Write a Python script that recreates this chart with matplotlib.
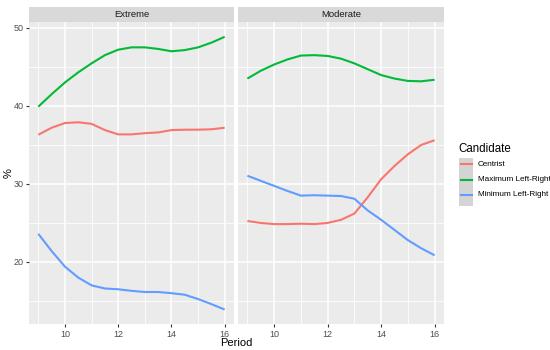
import numpy as np
import matplotlib
matplotlib.use('Agg')
from matplotlib import pyplot as plt
from matplotlib.patches import Rectangle
from matplotlib.lines import Line2D

plt.rcParams['font.family'] = ['Liberation Sans', 'DejaVu Sans']

period = [9, 9.5, 10, 10.5, 11, 11.5, 12, 12.5, 13, 13.5, 14, 14.5, 15, 15.5, 16]
panels = ['Extreme', 'Moderate']
candidates = ['Centrist', 'Maximum Left-Right', 'Minimum Left-Right']

extreme_centrist = [36.3, 37.2, 37.8, 37.9, 37.7, 36.9, 36.35, 36.35, 36.5, 36.6, 36.9, 36.95, 36.95, 37.0, 37.2]
extreme_max = [39.9, 41.5, 43.0, 44.3, 45.45, 46.5, 47.2, 47.5, 47.5, 47.3, 47.0, 47.15, 47.5, 48.1, 48.85]
extreme_min = [23.6, 21.4, 19.4, 18.0, 17.0, 16.6, 16.5, 16.3, 16.15, 16.15, 16.0, 15.8, 15.25, 14.6, 13.9]

moderate_centrist = [25.25, 25.0, 24.85, 24.85, 24.9, 24.85, 25.0, 25.4, 26.2, 28.3, 30.6, 32.3, 33.8, 35.0, 35.6]
moderate_max = [43.5, 44.5, 45.3, 45.95, 46.45, 46.5, 46.4, 46.05, 45.45, 44.7, 43.95, 43.5, 43.2, 43.15, 43.35]
moderate_min = [31.05, 30.4, 29.75, 29.1, 28.5, 28.55, 28.5, 28.45, 28.1, 26.6, 25.4, 24.1, 22.8, 21.75, 20.85]

series = {
    'Extreme': [extreme_centrist, extreme_max, extreme_min],
    'Moderate': [moderate_centrist, moderate_max, moderate_min],
}
colors = ['#F8766D', '#00BA38', '#619CFF']

W, H = 550, 350
fig = plt.figure(figsize=(5.5, 3.5), dpi=100)
fig.patch.set_facecolor('white')


def fx(px):
    return px / W


def fy(py):
    return 1 - py / H


panel_x = [(29, 234), (238, 444)]
top, bottom, strip_top = 22, 324, 7

for i, name in enumerate(panels):
    x0, x1 = panel_x[i]
    ax = fig.add_axes([fx(x0), fy(bottom), fx(x1 - x0), (bottom - top) / H])
    ax.set_facecolor('#EBEBEB')
    for s in ax.spines.values():
        s.set_visible(False)
    ax.set_xlim(8.65, 16.35)
    ax.set_ylim(12.05, 50.75)
    ax.set_xticks([10, 12, 14, 16])
    ax.set_yticks([20, 30, 40, 50])
    ax.set_xticks([9, 11, 13, 15], minor=True)
    ax.set_yticks([15, 25, 35, 45], minor=True)
    ax.grid(which='major', color='white', lw=1.1)
    ax.grid(which='minor', color='white', lw=0.55)
    ax.set_axisbelow(True)
    ax.tick_params(which='minor', length=0)
    ax.tick_params(which='major', length=2.5, width=0.8, color='#333333',
                   labelsize=6.5, labelcolor='#4D4D4D', pad=1.5)
    if i == 1:
        ax.tick_params(axis='y', which='major', left=False, labelleft=False)

    for vals, c in zip(series[name], colors):
        ax.plot(period, vals, color=c, lw=1.5, solid_capstyle='butt')

    # facet strip
    sax = fig.add_axes([fx(x0), fy(top), fx(x1 - x0), (top - strip_top) / H])
    sax.set_facecolor('#D9D9D9')
    sax.set_xticks([])
    sax.set_yticks([])
    for s in sax.spines.values():
        s.set_visible(False)
    sax.text(0.5, 0.5, name, ha='center', va='center', fontsize=6.8, color='#1A1A1A',
             transform=sax.transAxes)

fig.text(fx(236), fy(342.5), 'Period', ha='center', va='center', fontsize=8)
fig.text(fx(9), fy(173), '%', ha='center', va='center', fontsize=8, rotation=90)

# legend
fig.text(fx(458), fy(149), 'Candidate', ha='left', va='center', fontsize=8.3)
fig.patches.append(Rectangle((fx(459), fy(206)), fx(14), 48 / H, transform=fig.transFigure,
                             facecolor='#D4D4D4', edgecolor='none'))
key_y = [164, 180, 195]
for ky, c, lab in zip(key_y, colors, candidates):
    fig.lines.append(Line2D([fx(460.5), fx(471.5)], [fy(ky), fy(ky)], transform=fig.transFigure,
                            color=c, lw=1.5))
    fig.text(fx(478), fy(ky), lab, ha='left', va='center', fontsize=5.9)

fig.savefig('out.png', dpi=100)
